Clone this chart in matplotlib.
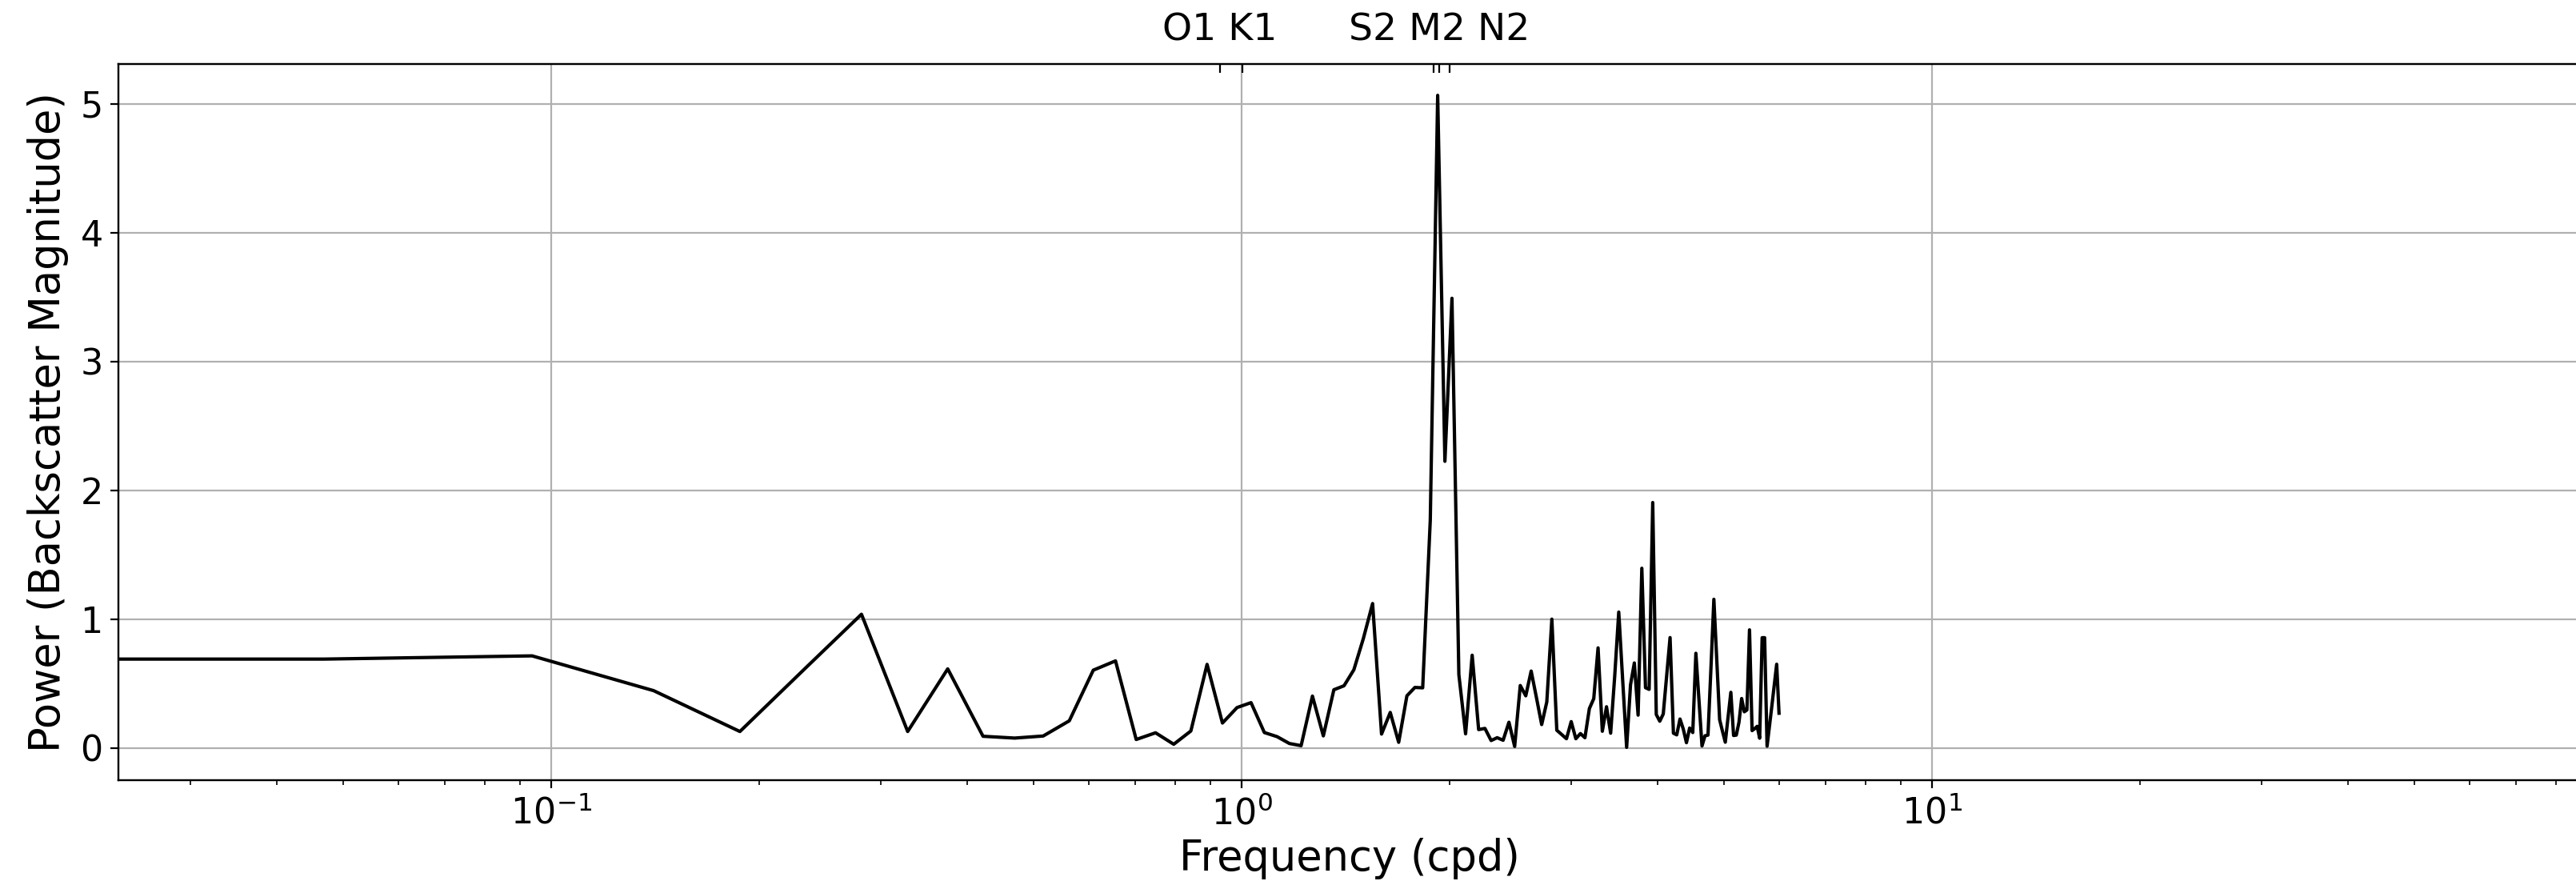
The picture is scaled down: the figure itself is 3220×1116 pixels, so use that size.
import numpy as np
import matplotlib.pyplot as plt

# frequency bins of the spectrum: 256 two-hourly samples -> 0 .. 6 cpd
freq = np.fft.rfftfreq(256, d=1/12)

# power, one value per bin
power = np.array([
    0.69, 0.69, 0.715, 0.445, 0.128, 0.63, 1.038, 0.128, 0.614, 0.091,
    0.077, 0.093, 0.211, 0.604, 0.676, 0.066, 0.118, 0.029, 0.132, 0.649,
    0.194, 0.314, 0.352, 0.120, 0.088, 0.035, 0.018, 0.403, 0.094, 0.452,
    0.483, 0.607, 0.85, 1.121, 0.108, 0.276, 0.044, 0.405, 0.470, 0.467,
    1.768, 5.065, 2.225, 3.49, 0.570, 0.11, 0.72, 0.143, 0.152, 0.058,
    0.080, 0.060, 0.20, 0.012, 0.485, 0.405, 0.597, 0.39, 0.182, 0.358,
    1.0, 0.138, 0.105, 0.072, 0.205, 0.072, 0.112, 0.080, 0.306, 0.383,
    0.777, 0.13, 0.32, 0.115, 0.56, 1.055, 0.52, 0.005, 0.49, 0.66,
    0.255, 1.395, 0.468, 0.455, 1.905, 0.26, 0.208, 0.264, 0.56, 0.857,
    0.115, 0.102, 0.225, 0.148, 0.041, 0.155, 0.12, 0.735, 0.37, 0.016,
    0.095, 0.100, 0.62, 1.154, 0.68, 0.22, 0.13, 0.045, 0.24, 0.432,
    0.097, 0.1, 0.2, 0.384, 0.281, 0.295, 0.917, 0.135, 0.15, 0.168,
    0.076, 0.856, 0.856, 0.014, 0.17, 0.33, 0.49, 0.65, 0.27,
])

# tidal constituents marked on the top axis
const_freq = [0.9295, 1.0027, 1.8960, 1.9323, 2.0]
const_label = ["O1 K1", "", "", "S2 M2 N2", ""]

fig = plt.figure(figsize=(16.1, 5.58), dpi=200)
ax = fig.add_axes([0.046, 0.1263, 0.956, 0.8023])

ax.plot(freq, power, "-", color="k", lw=1.5)
ax.set_xscale("log")
ax.set_xlim(0.0236, 87.1)
ax.set_ylim(-0.25, 5.31)
ax.grid(True)
ax.set_xlabel("Frequency (cpd)", fontsize=19, labelpad=3)
ax.set_ylabel("Power (Backscatter Magnitude)", fontsize=19, labelpad=5)
ax.tick_params(labelsize=16)

ax2 = ax.twiny()
ax2.set_xscale("log")
ax2.set_xlim(ax.get_xlim())
ax2.set_xticks(const_freq)
ax2.set_xticklabels(const_label, fontsize=17)
ax2.xaxis.set_minor_locator(plt.NullLocator())
ax2.tick_params(axis="x", direction="in", length=4, pad=7)

fig.savefig("out.png", dpi=200)
